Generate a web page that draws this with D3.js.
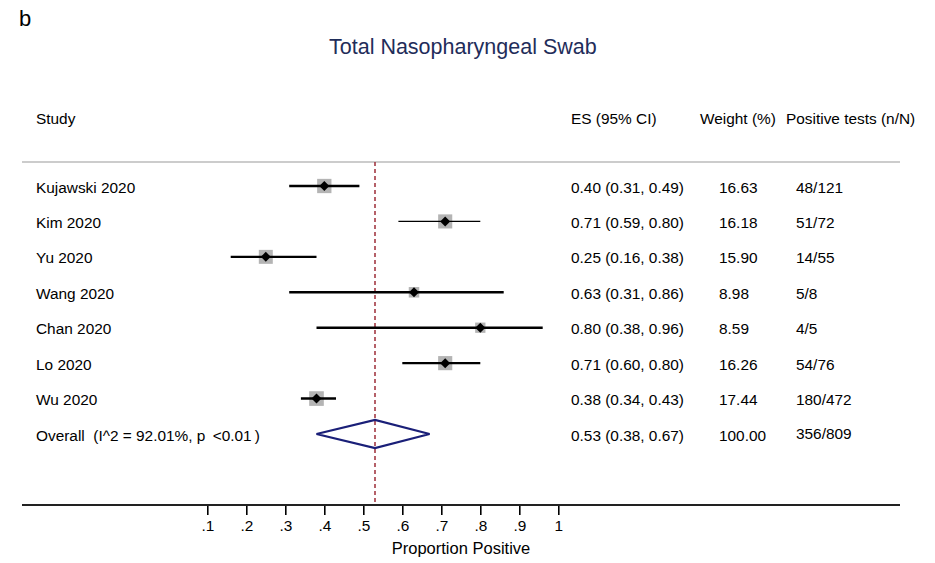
<!DOCTYPE html>
<html lang="en">
<head>
    <meta charset="UTF-8">
    <title>Total Nasopharyngeal Swab</title>
    <style>
        body { margin: 0; background: #fff; }
        svg text { font-family: Arial, "Liberation Sans", sans-serif; white-space: pre; }
    </style>
</head>
<body>
<svg height="563" width="935"></svg>

<script src="https://d3js.org/d3.v7.min.js"></script>
<script>

    // study rows
    var studies = ["Kujawski 2020", "Kim 2020", "Yu 2020", "Wang 2020", "Chan 2020", "Lo 2020", "Wu 2020"];
    var es = [0.40, 0.71, 0.25, 0.63, 0.80, 0.71, 0.38];
    var lower = [0.31, 0.59, 0.16, 0.31, 0.38, 0.60, 0.34];
    var upper = [0.49, 0.80, 0.38, 0.86, 0.96, 0.80, 0.43];
    var weights = [16.63, 16.18, 15.90, 8.98, 8.59, 16.26, 17.44];
    var positives = ["48/121", "51/72", "14/55", "5/8", "4/5", "54/76", "180/472"];

    var overallLabel = "Overall  (I^2 = 92.01%, p \u2009<0.01\u2009)";
    var overallEs = 0.53, overallLower = 0.38, overallUpper = 0.67;
    var overallWeight = 100.00;
    var overallPositives = "356/809";

    var xTicks = [0.1, 0.2, 0.3, 0.4, 0.5, 0.6, 0.7, 0.8, 0.9, 1];

    var svg = d3.select("svg");

    var fmt = d3.format(".2f");
    var rowLabels = studies.concat(["overall"]);

    var toX = d3.scaleLinear().domain([0.1, 1]).range([207.3, 558.3]);
    var toY = d3.scalePoint().domain(rowLabels).range([186, 434]);
    var boxSide = d3.scaleSqrt().domain([0, 16.63]).range([0, 14.3]);

    var axisY = 505;
    var fs = "15.4px";

    // letter + title
    svg.append("text").attr("x", 19).attr("y", 26)
        .style("font-size", "22px").text("b");

    svg.append("text").attr("x", 329).attr("y", 53.5)
        .style("font-size", "21.5px").style("fill", "#1f2d5a")
        .text("Total Nasopharyngeal Swab");

    // header row
    var header = svg.append("g").style("font-size", fs);
    header.append("text").attr("x", 36).attr("y", 124).text("Study");
    header.append("text").attr("x", 571).attr("y", 124).text("ES (95% CI)");
    header.append("text").attr("x", 700).attr("y", 124).text("Weight (%)");
    header.append("text").attr("x", 786).attr("y", 124).text("Positive tests (n/N)");

    svg.append("line")
        .attr("x1", 22).attr("x2", 900).attr("y1", 162).attr("y2", 162)
        .style("stroke", "#bbb").style("stroke-width", 1.5);

    // overall line
    svg.append("line")
        .attr("x1", toX(overallEs)).attr("x2", toX(overallEs))
        .attr("y1", 162).attr("y2", axisY)
        .style("stroke", "#a33a44").style("stroke-width", 1.6)
        .style("stroke-dasharray", "4,3");

    var rows = svg.selectAll(".study")
        .data(studies)
        .enter().append("g")
        .attr("class", "study");

    rows.append("rect")
        .attr("x", function(d, i) { return toX(es[i]) - boxSide(weights[i]) / 2; })
        .attr("y", function(d, i) { return toY(d) - boxSide(weights[i]) / 2; })
        .attr("width", function(d, i) { return boxSide(weights[i]); })
        .attr("height", function(d, i) { return boxSide(weights[i]); })
        .style("fill", "#b4b4b4");

    rows.append("line")
        .attr("x1", function(d, i) { return toX(lower[i]); })
        .attr("x2", function(d, i) { return toX(upper[i]); })
        .attr("y1", function(d) { return toY(d); })
        .attr("y2", function(d) { return toY(d); })
        .style("stroke", "#000")
        .style("stroke-width", function(d) { return d === "Kim 2020" ? 1.3 : 2.4; });

    rows.append("path")
        .attr("d", function(d, i) {
            var cx = toX(es[i]), cy = toY(d), r = 5;
            return "M" + (cx - r) + "," + cy + "L" + cx + "," + (cy - r) +
                   "L" + (cx + r) + "," + cy + "L" + cx + "," + (cy + r) + "Z";
        })
        .style("fill", "#000");

    // text columns
    var textRows = svg.append("g").style("font-size", fs);
    textRows.selectAll(".lbl").data(studies).enter().append("text")
        .attr("x", 36).attr("y", function(d) { return toY(d) + 6.5; })
        .text(function(d) { return d; });
    textRows.selectAll(".es").data(studies).enter().append("text")
        .attr("x", 571).attr("y", function(d) { return toY(d) + 6.5; })
        .text(function(d, i) { return fmt(es[i]) + " (" + fmt(lower[i]) + ", " + fmt(upper[i]) + ")"; });
    textRows.selectAll(".wt").data(studies).enter().append("text")
        .attr("x", 719).attr("y", function(d) { return toY(d) + 6.5; })
        .text(function(d, i) { return fmt(weights[i]); });
    textRows.selectAll(".pos").data(studies).enter().append("text")
        .attr("x", 796).attr("y", function(d) { return toY(d) + 6.5; })
        .text(function(d, i) { return positives[i]; });

    // overall row
    var oy = toY("overall");
    textRows.append("text").attr("x", 36).attr("y", oy + 6.5).text(overallLabel);
    textRows.append("text").attr("x", 571).attr("y", oy + 6.5)
        .text(fmt(overallEs) + " (" + fmt(overallLower) + ", " + fmt(overallUpper) + ")");
    textRows.append("text").attr("x", 719).attr("y", oy + 6.5).text(fmt(overallWeight));
    textRows.append("text").attr("x", 796).attr("y", oy + 5).text(overallPositives);

    svg.append("path")
        .attr("d", "M" + toX(overallLower) + "," + oy +
                   "L" + toX(overallEs) + "," + (oy - 14) +
                   "L" + toX(overallUpper) + "," + oy +
                   "L" + toX(overallEs) + "," + (oy + 14) + "Z")
        .style("fill", "none").style("stroke", "#1a1f78").style("stroke-width", 2.2);

    // x axis
    var xAxis = d3.axisBottom(toX)
        .tickValues(xTicks)
        .tickSize(10)
        .tickPadding(5)
        .tickFormat(function(d) { return d === 1 ? "1" : d3.format(".1f")(d).replace(/^0/, ""); });

    var axisG = svg.append("g")
        .attr("transform", "translate(0," + axisY + ")")
        .call(xAxis);
    axisG.select(".domain").remove();
    axisG.selectAll(".tick line").style("stroke", "#000").style("stroke-width", 1.6);
    axisG.selectAll(".tick text").style("font-size", fs).style("fill", "#000")
        .style("font-family", "Arial, 'Liberation Sans', sans-serif");

    svg.append("line")
        .attr("x1", 22).attr("x2", 900).attr("y1", axisY).attr("y2", axisY)
        .style("stroke", "#222").style("stroke-width", 2);

    svg.append("text")
        .attr("x", 461).attr("y", 554)
        .attr("text-anchor", "middle")
        .style("font-size", "16.5px")
        .text("Proportion Positive");
</script>
</body>
</html>
